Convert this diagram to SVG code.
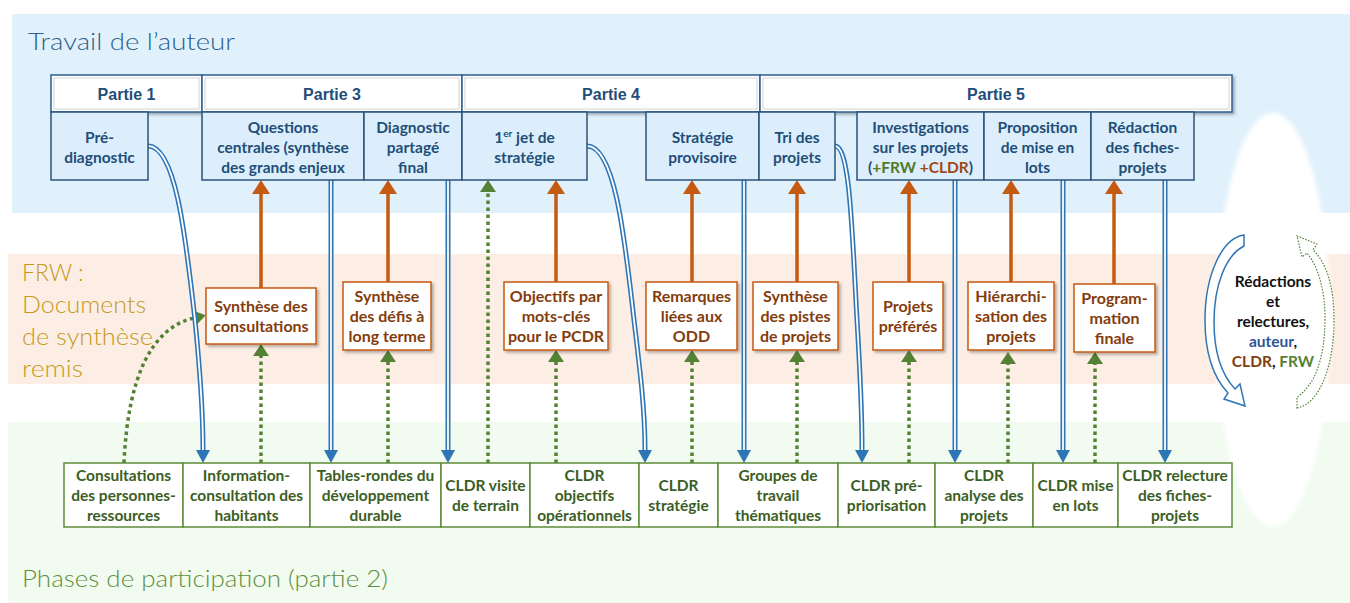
<svg xmlns="http://www.w3.org/2000/svg" width="1350" height="603" viewBox="0 0 1350 603">
<defs>
<style>
.hdr{fill:#fff;stroke:#2E5F8F;stroke-width:1.5;filter:url(#sh)}
.hin{fill:none;stroke:#E2E2E2;stroke-width:1.5}
.sub{fill:#DCEEFB;stroke:#2B527A;stroke-width:1.5}
.mid{fill:#fff;stroke:#C55A11;stroke-width:1.5;filter:url(#sh)}
.bot{fill:#fff;stroke:#5E8C3A;stroke-width:1.5}
.t{font-family:Lato,"Open Sans",sans-serif;font-weight:700;font-size:15.5px;text-anchor:middle}
.th{font-family:"Liberation Sans",Arial,sans-serif;font-weight:700;font-size:16px;text-anchor:middle;fill:#1F4E79}
.tb{fill:#1F4E79}.to{fill:#843C0C;font-size:16px}.tg{fill:#3B5E24}
.hand{font-family:Lato,"Open Sans",sans-serif;font-weight:300;font-size:23px}
.oa{stroke:#C55A11;stroke-width:3.5;fill:none;marker-end:url(#mo)}
.ga{stroke:#548235;stroke-width:3.5;fill:none;stroke-dasharray:3.5 3.5;marker-end:url(#mg)}
.bo{stroke:#2E75B6;stroke-width:5;fill:none;marker-end:url(#mb)}
.bi{stroke:#fff;stroke-width:1.8;fill:none}
</style>
<filter id="sh" x="-10%" y="-10%" width="130%" height="130%"><feDropShadow dx="2" dy="2" stdDeviation="1.5" flood-color="#000" flood-opacity="0.3"/></filter>
<filter id="soft"><feGaussianBlur stdDeviation="2"/></filter>
<marker id="mo" markerUnits="userSpaceOnUse" markerWidth="14" markerHeight="18" refX="0" refY="9" orient="auto" viewBox="0 0 14 18"><path d="M0,0 L14,9 L0,18Z" fill="#C55A11"/></marker>
<marker id="mg" markerUnits="userSpaceOnUse" markerWidth="12" markerHeight="16" refX="0" refY="8" orient="auto" viewBox="0 0 12 16"><path d="M0,0 L12,8 L0,16Z" fill="#548235"/></marker>
<marker id="mb" markerUnits="userSpaceOnUse" markerWidth="13" markerHeight="14" refX="0" refY="7" orient="auto" viewBox="0 0 13 14"><path d="M0,0 L13,7 L0,14Z" fill="#2E75B6"/></marker>
</defs>

<g id="background">
<rect x="12" y="14" width="1338" height="199" fill="#E0F1FC"/>
<rect x="8" y="254" width="1342" height="130" fill="#FDEEE5"/>
<rect x="8" y="422" width="1342" height="181" fill="#F1FBF0"/>
<ellipse cx="1273" cy="320" rx="57" ry="207" fill="#fff" filter="url(#soft)"/>
<text class="hand" x="28" y="50" fill="#2E5F8A" textLength="207" lengthAdjust="spacingAndGlyphs">Travail de l’auteur</text>
<g class="hand" fill="#C49A1A">
<text x="22" y="281">FRW :</text>
<text x="22" y="313" textLength="124" lengthAdjust="spacingAndGlyphs">Documents</text>
<text x="22" y="345" textLength="131" lengthAdjust="spacingAndGlyphs">de synthèse</text>
<text x="22" y="377" textLength="61" lengthAdjust="spacingAndGlyphs">remis</text>
</g>
<text class="hand" x="22" y="587" fill="#5E8F3E" textLength="366" lengthAdjust="spacingAndGlyphs">Phases de participation (partie 2)</text>
</g>

<g id="connectors">
<path class="oa" d="M261,288 V194"/>
<path class="oa" d="M388,282 V194"/>
<path class="oa" d="M556,282 V194"/>
<path class="oa" d="M692,282 V194"/>
<path class="oa" d="M797,282 V194"/>
<path class="oa" d="M909,282 V194"/>
<path class="oa" d="M1011,282 V194"/>
<path class="oa" d="M1114,284 V194"/>
<path class="ga" d="M124,463 Q130,333 194,318"/>
<path class="ga" d="M261,463 V356"/>
<path class="ga" d="M388,463 V362"/>
<path class="ga" d="M488,463 V192"/>
<path class="ga" d="M556,463 V362"/>
<path class="ga" d="M692,463 V362"/>
<path class="ga" d="M797,463 V362"/>
<path class="ga" d="M909,463 V362"/>
<path class="ga" d="M1008,463 V364"/>
<path class="ga" d="M1095,463 V364"/>
<path class="bo" d="M148,146 C175,146 185,230 195,320 C200,370 203,410 203,450"/>
<path class="bi" d="M148,146 C175,146 185,230 195,320 C200,370 203,410 203,450"/>
<path class="bo" d="M331,180 V450"/><path class="bi" d="M331,180 V450"/>
<path class="bo" d="M448,180 V450"/><path class="bi" d="M448,180 V450"/>
<path class="bo" d="M587,146 C614,146 624,230 634,320 C640,370 645,410 645,450"/>
<path class="bi" d="M587,146 C614,146 624,230 634,320 C640,370 645,410 645,450"/>
<path class="bo" d="M744,180 V450"/><path class="bi" d="M744,180 V450"/>
<path class="bo" d="M835,146 C850,146 852,230 857,320 C860,370 862,410 862,450"/>
<path class="bi" d="M835,146 C850,146 852,230 857,320 C860,370 862,410 862,450"/>
<path class="bo" d="M955,180 V450"/><path class="bi" d="M955,180 V450"/>
<path class="bo" d="M1063,180 V450"/><path class="bi" d="M1063,180 V450"/>
<path class="bo" d="M1165,180 V450"/><path class="bi" d="M1165,180 V450"/>
<path d="M1244,235 C1222,238 1205,275 1205,320 C1205,355 1214,378 1228,393 L1224,399 L1245,406 L1240,384 L1235,389 C1222,375 1214,352 1214,322 C1214,285 1226,255 1244,246 Z" fill="#fff" stroke="#2E75B6" stroke-width="1.5"/>
<path d="M1297,408 C1320,404 1334,365 1334,320 C1334,285 1326,262 1313,250 L1317,244 L1297,236 L1302,257 L1307,253 C1318,266 1325,290 1325,318 C1325,360 1314,386 1297,397 Z" fill="#fff" stroke="#548235" stroke-width="1.2" stroke-dasharray="1.5 1.5"/>
</g>

<g id="headers">
<g id="partie1"><rect class="hdr" x="51" y="75" width="151" height="37"/><rect class="hin" x="54" y="78" width="145" height="31"/><text class="th" x="126.5" y="99.5">Partie 1</text></g>
<g id="partie3"><rect class="hdr" x="202" y="75" width="260" height="37"/><rect class="hin" x="205" y="78" width="254" height="31"/><text class="th" x="332" y="99.5">Partie 3</text></g>
<g id="partie4"><rect class="hdr" x="462" y="75" width="298" height="37"/><rect class="hin" x="465" y="78" width="292" height="31"/><text class="th" x="611" y="99.5">Partie 4</text></g>
<g id="partie5"><rect class="hdr" x="760" y="75" width="472" height="37"/><rect class="hin" x="763" y="78" width="466" height="31"/><text class="th" x="996" y="99.5">Partie 5</text></g>
</g>

<g id="author-steps">
<g id="prediag"><rect class="sub" x="51" y="112" width="97" height="68"/><text class="t tb" x="99.5" y="143">Pré-</text><text class="t tb" x="99.5" y="163">diagnostic</text></g>
<g id="questions"><rect class="sub" x="202" y="112" width="162" height="68"/><text class="t tb" x="283" y="132.5">Questions</text><text class="t tb" x="283" y="152.5">centrales (synthèse</text><text class="t tb" x="283" y="172.5">des grands enjeux</text></g>
<g id="diagfinal"><rect class="sub" x="364" y="112" width="98" height="68"/><text class="t tb" x="413" y="132.5">Diagnostic</text><text class="t tb" x="413" y="152.5">partagé</text><text class="t tb" x="413" y="172.5">final</text></g>
<g id="premierjet"><rect class="sub" x="462" y="112" width="125" height="68"/><text class="t tb" x="524.5" y="143">1<tspan font-size="10" dy="-6">er</tspan><tspan dy="6"> jet de</tspan></text><text class="t tb" x="524.5" y="163">stratégie</text></g>
<g id="stratprov"><rect class="sub" x="646" y="112" width="113" height="68"/><text class="t tb" x="702.5" y="143">Stratégie</text><text class="t tb" x="702.5" y="163">provisoire</text></g>
<g id="tri"><rect class="sub" x="759" y="112" width="76" height="68"/><text class="t tb" x="797" y="143">Tri des</text><text class="t tb" x="797" y="163">projets</text></g>
<g id="investig"><rect class="sub" x="857" y="112" width="127" height="68"/><text class="t tb" x="920.5" y="132.5">Investigations</text><text class="t tb" x="920.5" y="152.5">sur les projets</text><text class="t tb" x="920.5" y="172.5">(<tspan fill="#4F7A28">+FRW</tspan> <tspan fill="#9C4A15">+CLDR</tspan>)</text></g>
<g id="proposition"><rect class="sub" x="984" y="112" width="107" height="68"/><text class="t tb" x="1037.5" y="132.5">Proposition</text><text class="t tb" x="1037.5" y="152.5">de mise en</text><text class="t tb" x="1037.5" y="172.5">lots</text></g>
<g id="redaction"><rect class="sub" x="1091" y="112" width="103" height="68"/><text class="t tb" x="1142.5" y="132.5">Rédaction</text><text class="t tb" x="1142.5" y="152.5">des fiches-</text><text class="t tb" x="1142.5" y="172.5">projets</text></g>
</g>

<g id="documents">
<g id="synthconsult"><rect class="mid" x="206" y="288" width="110" height="56"/><text class="t to" x="261" y="312">Synthèse des</text><text class="t to" x="261" y="332">consultations</text></g>
<g id="synthdefis"><rect class="mid" x="343" y="282" width="88" height="68"/><text class="t to" x="387" y="302">Synthèse</text><text class="t to" x="387" y="322">des défis à</text><text class="t to" x="387" y="342">long terme</text></g>
<g id="objectifs"><rect class="mid" x="504" y="282" width="104" height="68"/><text class="t to" x="556" y="302">Objectifs par</text><text class="t to" x="556" y="322">mots-clés</text><text class="t to" x="556" y="342">pour le PCDR</text></g>
<g id="remarques"><rect class="mid" x="646" y="282" width="91" height="68"/><text class="t to" x="691.5" y="302">Remarques</text><text class="t to" x="691.5" y="322">liées aux</text><text class="t to" x="691.5" y="342">ODD</text></g>
<g id="pistes"><rect class="mid" x="753" y="282" width="85" height="68"/><text class="t to" x="795.5" y="302">Synthèse</text><text class="t to" x="795.5" y="322">des pistes</text><text class="t to" x="795.5" y="342">de projets</text></g>
<g id="preferes"><rect class="mid" x="873" y="282" width="70" height="68"/><text class="t to" x="908" y="312">Projets</text><text class="t to" x="908" y="332">préférés</text></g>
<g id="hierarchi"><rect class="mid" x="968" y="282" width="86" height="68"/><text class="t to" x="1011" y="302">Hiérarchi-</text><text class="t to" x="1011" y="322">sation des</text><text class="t to" x="1011" y="342">projets</text></g>
<g id="programmation"><rect class="mid" x="1074" y="284" width="81" height="68"/><text class="t to" x="1114.5" y="304">Program-</text><text class="t to" x="1114.5" y="324">mation</text><text class="t to" x="1114.5" y="344">finale</text></g>
</g>

<g id="participation">
<g id="consultpers"><rect class="bot" x="64" y="463" width="119" height="64"/><text class="t tg" x="123.5" y="481">Consultations</text><text class="t tg" x="123.5" y="501">des personnes-</text><text class="t tg" x="123.5" y="521">ressources</text></g>
<g id="infoconsult"><rect class="bot" x="183" y="463" width="127" height="64"/><text class="t tg" x="246.5" y="481">Information-</text><text class="t tg" x="246.5" y="501">consultation des</text><text class="t tg" x="246.5" y="521">habitants</text></g>
<g id="tablesrondes"><rect class="bot" x="310" y="463" width="131" height="64"/><text class="t tg" x="375.5" y="481">Tables-rondes du</text><text class="t tg" x="375.5" y="501">développement</text><text class="t tg" x="375.5" y="521">durable</text></g>
<g id="visite"><rect class="bot" x="441" y="463" width="89" height="64"/><text class="t tg" x="485.5" y="491">CLDR visite</text><text class="t tg" x="485.5" y="511">de terrain</text></g>
<g id="cldrobj"><rect class="bot" x="530" y="463" width="109" height="64"/><text class="t tg" x="584.5" y="481">CLDR</text><text class="t tg" x="584.5" y="501">objectifs</text><text class="t tg" x="584.5" y="521">opérationnels</text></g>
<g id="cldrstrat"><rect class="bot" x="639" y="463" width="79" height="64"/><text class="t tg" x="678.5" y="491">CLDR</text><text class="t tg" x="678.5" y="511">stratégie</text></g>
<g id="groupes"><rect class="bot" x="718" y="463" width="120" height="64"/><text class="t tg" x="778" y="481">Groupes de</text><text class="t tg" x="778" y="501">travail</text><text class="t tg" x="778" y="521">thématiques</text></g>
<g id="prioris"><rect class="bot" x="838" y="463" width="97" height="64"/><text class="t tg" x="886.5" y="491">CLDR pré-</text><text class="t tg" x="886.5" y="511">priorisation</text></g>
<g id="analyse"><rect class="bot" x="935" y="463" width="98" height="64"/><text class="t tg" x="984" y="481">CLDR</text><text class="t tg" x="984" y="501">analyse des</text><text class="t tg" x="984" y="521">projets</text></g>
<g id="miselots"><rect class="bot" x="1033" y="463" width="85" height="64"/><text class="t tg" x="1075.5" y="491">CLDR mise</text><text class="t tg" x="1075.5" y="511">en lots</text></g>
<g id="relecture"><rect class="bot" x="1118" y="463" width="114" height="64"/><text class="t tg" x="1175" y="481">CLDR relecture</text><text class="t tg" x="1175" y="501">des fiches-</text><text class="t tg" x="1175" y="521">projets</text></g>
</g>

<g id="review">
<text class="t" x="1273" y="287" fill="#111">Rédactions</text>
<text class="t" x="1273" y="307" fill="#111">et</text>
<text class="t" x="1273" y="327" fill="#111">relectures,</text>
<text class="t" x="1273" y="347" fill="#111"><tspan fill="#2F5597">auteur</tspan>,</text>
<text class="t" x="1273" y="367" fill="#111"><tspan fill="#843C0C">CLDR</tspan>, <tspan fill="#548235">FRW</tspan></text>
</g>
</svg>
